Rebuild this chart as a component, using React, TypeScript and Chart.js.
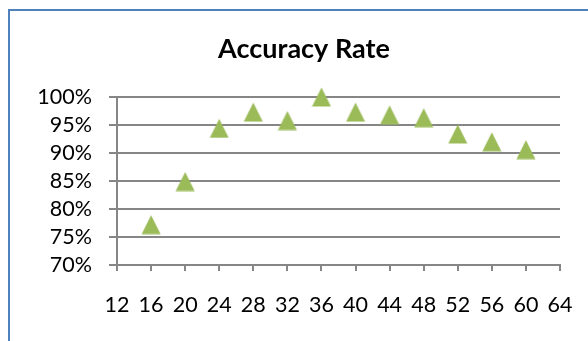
import React, { useEffect, useRef } from "react";
import { Chart, registerables } from "chart.js";

Chart.register(...registerables);

const titleText = "Accuracy Rate";
const xValues = [16, 20, 24, 28, 32, 36, 40, 44, 48, 52, 56, 60];
const accuracy = [77.2, 84.9, 94.4, 97.3, 95.8, 100.0, 97.3, 96.8, 96.3, 93.4, 92.0, 90.6];
const xMin = 12;
const xMax = 64;
const xStep = 4;
const yMin = 70;
const yMax = 100;
const yStep = 5;

const GREEN = "#9BBB59";
const GRID = "#868686";
const FONT = "Lato, 'Open Sans', sans-serif";

function makeTriangle(): HTMLCanvasElement {
  const c = document.createElement("canvas");
  c.width = 20;
  c.height = 20;
  const ctx = c.getContext("2d")!;
  ctx.fillStyle = GREEN;
  ctx.beginPath();
  ctx.moveTo(10, 0.5);
  ctx.lineTo(19.5, 19.5);
  ctx.lineTo(0.5, 19.5);
  ctx.closePath();
  ctx.fill();
  return c;
}

// Centre the title over the whole chart frame (not only the plot region)
const titleCenterPlugin = {
  id: "titleCenter",
  afterLayout(chart: any) {
    const t = chart.titleBlock;
    if (t) {
      t.left = 48;
      t.right = 560;
      t.width = t.right - t.left;
    }
  },
};

export default function App() {
  const ref = useRef<HTMLCanvasElement>(null);
  useEffect(() => {
    const tri = makeTriangle();
    const chart = new Chart(ref.current!, {
      type: "scatter",
      data: {
        datasets: [
          {
            data: xValues.map((x, i) => ({ x, y: accuracy[i] })),
            pointStyle: tri as any,
            pointRadius: 10,
            backgroundColor: GREEN,
            borderColor: GREEN,
            clip: false as any,
          },
        ],
      },
      plugins: [titleCenterPlugin],
      options: {
        animation: false,
        responsive: false,
        layout: { padding: { left: 0, right: 28, top: 0, bottom: 0 } },
        plugins: {
          legend: { display: false },
          tooltip: { enabled: false },
          title: {
            display: true,
            text: titleText,
            color: "#000",
            font: { family: FONT, size: 27, weight: "bold", lineHeight: 1.2 },
            padding: { top: 33.2, bottom: 31.4 },
          },
        },
        scales: {
          x: {
            type: "linear",
            min: xMin,
            max: xMax,
            ticks: {
              stepSize: xStep,
              color: "#000",
              font: { family: FONT, size: 21.5 },
              padding: 21,
              maxRotation: 0,
              autoSkip: false,
            },
            grid: {
              drawOnChartArea: false,
              drawTicks: true,
              tickLength: 6,
              color: GRID,
              lineWidth: 2,
            },
            border: { color: GRID, width: 2 },
            afterFit: (s: any) => {
              s.height = 76;
              s.paddingLeft = 0;
              s.paddingRight = 0;
            },
          },
          y: {
            min: yMin,
            max: yMax,
            ticks: {
              stepSize: yStep,
              color: "#000",
              font: { family: FONT, size: 21.5 },
              padding: 17,
              autoSkip: false,
              callback: (v: any) => `${v}%`,
            },
            grid: {
              color: GRID,
              lineWidth: 2,
              drawTicks: true,
              tickLength: 8,
            },
            border: { color: GRID, width: 2 },
            afterFit: (s: any) => {
              s.width = 117;
              s.paddingTop = 0;
              s.paddingBottom = 0;
            },
          },
        },
      },
    });
    return () => chart.destroy();
  }, []);
  return (
    <div style={{ position: "fixed", left: 0, top: 0, width: 588, height: 341, background: "#fff", overflow: "hidden" }}>
      <canvas ref={ref} width={588} height={341} style={{ position: "absolute", left: 0, top: 0 }} />
      <div
        style={{
          position: "absolute",
          left: 8,
          top: 9,
          width: 620,
          height: 400,
          border: "2.5px solid #4F81BD",
          boxSizing: "border-box",
          pointerEvents: "none",
        }}
      />
    </div>
  );
}
